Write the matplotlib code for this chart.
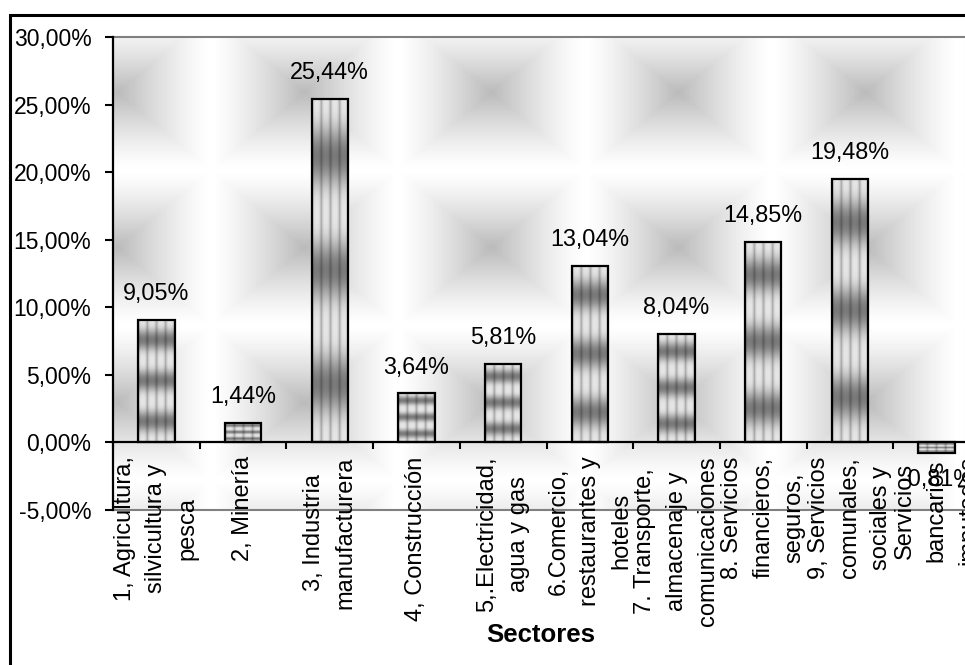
import numpy as np
import matplotlib.pyplot as plt
from matplotlib.patches import Rectangle

plt.rcParams['font.family'] = ['Liberation Sans', 'DejaVu Sans']

# participación por sector (%)
sectores = [
    "1, Agricultura,\nsilvicultura y\npesca",
    "2, Minería",
    "3, Industria\nmanufacturera",
    "4, Construcción",
    "5,.Electricidad,\nagua y gas",
    "6.Comercio,\nrestaurantes y\nhoteles",
    "7. Transporte,\nalmacenaje y\ncomunicaciones",
    "8. Servicios\nfinancieros,\nseguros,",
    "9, Servicios\ncomunales,\nsociales y",
    "Servicios\nbancarios\nimputados",
]
valores = [9.05, 1.44, 25.44, 3.64, 5.81, 13.04, 8.04, 14.85, 19.48, -0.81]
yticks = [-5, 0, 5, 10, 15, 20, 25, 30]


def pct(v):
    return f"{v:.2f}%".replace('.', ',')


fs = 16.5
fig = plt.figure(figsize=(9.65, 6.65), dpi=100)
ax = fig.add_axes([113 / 965, 155 / 665, 867 / 965, 473 / 665])

# fondo acolchado gris/blanco
W, H = 867, 473
xs = np.arange(W) + 113.0
ys = np.arange(H) + 37.0
px, py = 187.0, 155.0
dx = ((xs - 117 + px / 2) % px - px / 2) / (px / 2)
dy = ((ys - 92 + py / 2) % py - py / 2) / (py / 2)
m = np.maximum(np.abs(dx)[None, :], np.abs(dy)[:, None])
fondo = 1 - 0.27 * (1 - m) ** 1.3
ax.imshow(fondo, cmap='gray', vmin=0, vmax=1, extent=(0, 10, -5, 30),
          aspect='auto', zorder=0, interpolation='bilinear')

# textura de las barras: rayas verticales y bandas oscuras
u = np.linspace(0, 1, 80)
v = np.linspace(0, 1, 160)
s = ((1 - np.cos(8 * np.pi * u)) / 2) ** 0.5
d = ((1 + np.cos(6 * np.pi * (v - 1 / 6))) / 2) ** 1.5
textura = (0.9 - 0.42 * d[:, None]) * (1 - 0.3 * (1 - s[None, :]) ** 2)

x = np.arange(len(valores)) + 0.5
bars = ax.bar(x, valores, width=0.42, facecolor='none', edgecolor='black',
              linewidth=1.6, zorder=3)
for b in bars:
    x0 = b.get_x()
    h = b.get_height()
    ax.imshow(textura, cmap='gray', vmin=0, vmax=1,
              extent=(x0, x0 + b.get_width(), min(0, h), max(0, h)),
              aspect='auto', zorder=2, interpolation='bilinear')

for xi, val in zip(x, valores):
    off = 14.2 if val >= 0 else -23.8
    ax.annotate(pct(val), (xi, val), xytext=(0, off), textcoords='offset points',
                ha='center', va='baseline', fontsize=16.8, zorder=5,
                annotation_clip=False)

ax.set_xlim(0, 10)
ax.set_ylim(-5, 30)

for sp in ['top', 'right']:
    ax.spines[sp].set_visible(False)
ax.spines['left'].set_linewidth(1.6)
ax.spines['bottom'].set_position(('data', 0))
ax.spines['bottom'].set_linewidth(1.6)
ax.spines['bottom'].set_zorder(4)

ax.set_yticks(yticks, labels=[pct(t) for t in yticks])
ax.tick_params(axis='y', length=5.5, width=1.5, pad=10, direction='out',
               labelsize=fs)

ax.set_xticks(x)
ax.set_xticklabels(sectores)
ax.set_xticks(np.arange(0, 11), minor=True)
ax.tick_params(axis='x', which='major', length=0, pad=10, labelsize=17,
               labelrotation=90)
ax.tick_params(axis='x', which='minor', length=5, width=1.5, direction='out')
for t in ax.get_xticklabels():
    t.set_ha('center')
    t.set_va('top')
    t.set_multialignment('center')
    t.set_linespacing(1.55)

# borde gris del área de trazado
ax.axhline(30, color='#808080', lw=1.5, clip_on=False, zorder=1)
ax.axhline(-5, color='#808080', lw=1.5, clip_on=False, zorder=1)

fig.text(541 / 965, 1 - 635 / 665, "Sectores", ha='center', va='center',
         fontsize=18.5, fontweight='bold')

# marco exterior del gráfico
fig.patches.append(Rectangle((10 / 965, -0.05), 1.2, 1 - 15 / 665 + 0.05,
                             transform=fig.transFigure, fill=False,
                             lw=2.2, ec='black'))

fig.savefig('out.png', dpi=100)
